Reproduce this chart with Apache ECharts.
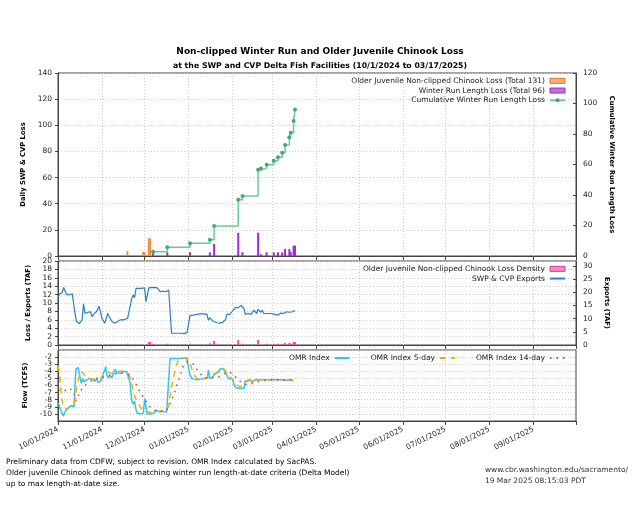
<!DOCTYPE html>
<html>
<head>
<meta charset="utf-8">
<script src="https://cdn.jsdelivr.net/npm/echarts@6/dist/echarts.min.js"></script>
<style>
html,body{margin:0;padding:0;background:#fff;}
#chart{width:640px;height:530px;}
</style>
</head>
<body>
<div id="chart"></div>
<script>
// ---- Data (days counted from 10/01/2024) ----
const olderJuvDays = [49, 60, 61, 64, 65];
const olderJuvLoss = [3.8, 3.0, 3.0, 13.5, 13.5];

const winterDays = [67, 77, 93, 107, 110, 127, 130, 141, 143, 147, 152, 155, 158, 160, 163, 164, 166, 167];
const winterLoss = [2.8, 2.8, 2.8, 2.8, 9.2, 17.8, 2.8, 17.8, 1.3, 2.8, 2.8, 2.8, 2.8, 5.4, 5.4, 3.0, 7.9, 7.9];

const cumDays = [67, 77, 93, 107, 110, 127, 130, 141, 143, 147, 152, 155, 158, 160, 163, 164, 166, 167];
const cumLoss = [2.8, 5.7, 8.3, 10.7, 19.7, 36.9, 39.3, 56.6, 57.3, 59.9, 62.5, 64.7, 67.7, 72.8, 77.8, 80.9, 88.5, 96];

const densityDays = [49, 64, 65, 67, 77, 93, 107, 110, 127, 130, 141, 147, 152, 155, 158, 160, 163, 164, 166, 167];
const densityVals = [0.3, 0.7, 0.7, 0.3, 0.3, 0.3, 0.4, 0.95, 1.2, 0.3, 1.2, 0.3, 0.3, 0.3, 0.3, 0.5, 0.5, 0.3, 0.7, 0.7];

const exportDays = [0, 1, 3, 4, 6, 8, 10, 11, 12, 13, 15, 16, 17, 18, 19, 20, 21, 23, 24, 25, 27, 29, 31, 33, 35, 36, 38, 40, 42, 44, 45, 46, 47, 49, 50, 52, 53, 54, 55, 57, 59, 61, 62, 63, 64, 67, 70, 71, 72, 74, 76, 77, 78, 79, 80, 82, 86, 89, 91, 92, 93, 95, 98, 99, 100, 103, 105, 106, 107, 108, 109, 112, 114, 116, 118, 119, 121, 122, 125, 127, 129, 131, 132, 134, 136, 138, 139, 140, 141, 143, 144, 145, 147, 150, 153, 155, 157, 159, 161, 162, 163, 165, 166, 167];
const exportVals = [11.1, 12.1, 12.5, 13.7, 12.1, 11.9, 12.2, 12.2, 7.5, 5.6, 5.1, 5.2, 6.0, 9.8, 7.5, 7.9, 7.8, 7.9, 6.7, 7.3, 7.9, 9.2, 6.3, 5.2, 7.5, 6.8, 5.6, 5.2, 5.6, 6.0, 5.6, 6.0, 5.6, 6.3, 6.5, 11.1, 11.9, 11.3, 13.5, 13.5, 13.5, 13.6, 10.3, 10.3, 13.6, 13.7, 13.6, 13.5, 12.7, 12.8, 12.7, 12.5, 13.1, 13.1, 2.8, 2.8, 2.8, 2.7, 3.0, 2.8, 7.0, 7.1, 7.3, 7.1, 7.4, 7.4, 7.3, 5.9, 6.5, 6.3, 5.7, 5.3, 5.2, 5.4, 6.0, 7.3, 7.3, 7.5, 8.9, 8.9, 9.4, 8.7, 7.3, 7.5, 7.3, 8.3, 8.1, 7.5, 8.5, 7.8, 8.3, 7.5, 7.5, 7.5, 7.3, 7.1, 7.6, 7.5, 7.9, 8.1, 7.8, 7.9, 8.1, 8.2];

const omrDays = [0.2, 1.4, 2.8, 3.7, 4.9, 7.3, 9.7, 11.3, 12.0, 12.7, 14.3, 15.0, 15.5, 16.4, 17.4, 18.3, 20.2, 22.5, 24.4, 26.1, 27.2, 28.4, 29.6, 30.8, 31.9, 33.1, 33.6, 34.3, 35.4, 36.6, 37.8, 39.0, 40.2, 41.4, 42.5, 44.2, 45.6, 47.0, 48.4, 49.5, 50.7, 51.4, 52.1, 53.1, 54.0, 54.7, 55.9, 57.8, 60.1, 61.1, 61.8, 62.7, 65.3, 67.2, 69.5, 71.4, 73.1, 74.7, 76.6, 77.7, 78.9, 81.2, 86.0, 90.7, 92.1, 93.0, 94.2, 95.9, 98.2, 100.1, 102.4, 105.3, 106.0, 107.1, 109.0, 110.6, 113.0, 114.1, 116.5, 117.7, 118.9, 120.0, 121.2, 122.8, 123.5, 124.7, 126.4, 129.5, 131.1, 131.8, 133.0, 135.3, 137.2, 138.8, 142.3, 147.1, 149.9, 151.3, 153.0, 156.4, 160.0, 163.5, 165.8];
const omrVals = [-8.5, -9.2, -9.9, -10.3, -9.7, -9.1, -8.8, -9.0, -5.9, -3.6, -3.5, -3.6, -4.8, -5.7, -5.0, -5.5, -5.2, -5.0, -5.2, -5.4, -5.0, -5.6, -5.7, -5.2, -4.3, -3.8, -3.3, -4.5, -4.9, -4.6, -4.9, -4.4, -3.7, -4.2, -4.0, -4.3, -4.0, -3.9, -4.1, -4.3, -5.5, -7.1, -8.3, -8.6, -8.2, -9.2, -9.9, -10.0, -9.9, -7.8, -7.7, -10.0, -10.0, -9.9, -9.5, -9.7, -9.6, -9.7, -9.7, -9.7, -2.2, -2.2, -2.2, -2.1, -2.2, -4.5, -5.0, -5.1, -5.2, -5.1, -5.0, -4.9, -3.8, -5.0, -4.8, -4.4, -4.1, -3.7, -3.6, -3.7, -4.5, -5.0, -5.1, -5.1, -5.5, -6.2, -6.4, -6.4, -6.4, -5.4, -5.2, -5.2, -5.5, -5.2, -5.2, -5.2, -5.2, -5.0, -5.2, -5.2, -5.3, -5.2, -5.3];

const omr5Days = [0.2, 1.4, 2.6, 3.7, 5.6, 8.5, 10.8, 12.2, 13.2, 14.6, 16.0, 17.8, 19.7, 21.4, 23.7, 26.1, 28.4, 30.1, 31.9, 33.8, 35.4, 37.8, 40.2, 42.5, 44.9, 47.2, 49.5, 51.2, 52.6, 54.2, 56.6, 58.9, 61.3, 63.6, 66.0, 68.3, 71.9, 75.4, 77.7, 79.4, 81.2, 83.1, 84.7, 87.1, 90.7, 92.5, 94.2, 95.9, 97.8, 100.1, 103.6, 105.9, 108.3, 111.4, 114.2, 117.0, 118.9, 121.2, 123.5, 125.9, 128.7, 130.6, 133.0, 136.5, 142.3, 149.4, 156.4, 165.8];
const omr5Vals = [-3.2, -5.0, -7.8, -9.0, -9.3, -9.0, -8.7, -7.8, -6.2, -5.0, -4.0, -4.3, -4.8, -5.0, -5.1, -5.1, -5.2, -5.0, -4.5, -4.1, -4.1, -4.3, -4.1, -4.0, -4.0, -4.0, -4.3, -5.0, -6.4, -7.6, -8.6, -9.3, -9.6, -9.7, -9.9, -9.7, -9.6, -9.6, -9.0, -6.9, -5.0, -3.4, -2.5, -2.2, -2.2, -2.5, -3.6, -4.5, -5.0, -5.1, -5.0, -4.9, -4.5, -4.2, -3.8, -3.7, -4.1, -4.8, -5.2, -5.9, -6.2, -5.9, -5.4, -5.3, -5.2, -5.2, -5.2, -5.3];

const omr14Days = [0.2, 3.7, 8.5, 11.3, 12.7, 15.5, 17.8, 20.2, 23.7, 27.2, 31.9, 35.4, 38.9, 43.7, 48.4, 51.9, 54.2, 57.8, 61.3, 64.8, 68.3, 71.9, 76.6, 78.9, 81.2, 83.6, 85.9, 88.2, 90.7, 93.0, 95.4, 97.8, 100.1, 102.4, 105.9, 109.4, 113.0, 116.5, 120.0, 122.8, 125.9, 129.4, 133.0, 136.5, 140.0, 144.7, 151.8, 158.8, 165.8];
const omr14Vals = [-6.6, -6.8, -6.4, -7.1, -8.2, -6.9, -6.2, -5.8, -5.3, -5.0, -4.8, -4.6, -4.4, -4.2, -4.3, -4.8, -5.5, -6.9, -8.0, -9.0, -9.5, -9.7, -9.5, -8.6, -7.5, -6.0, -4.7, -3.3, -2.7, -2.7, -3.0, -3.7, -4.3, -4.8, -5.0, -4.9, -4.8, -4.4, -4.1, -4.3, -5.0, -5.6, -5.9, -5.7, -5.5, -5.3, -5.2, -5.2, -5.2];

// ---- Build ----
const FONT = 'DejaVu Sans';
const DAY = 86400000;
const T0 = new Date(2024, 9, 1).getTime();
const XMAX = Math.round((new Date(2025, 9, 1).getTime() - T0) / DAY);
const monthStarts = Array.from({ length: 13 }, (_, i) => Math.round((new Date(2024, 9 + i, 1).getTime() - T0) / DAY));
const pad2 = n => (n < 10 ? '0' : '') + n;
const fmtDay = d => {
  const dt = new Date(T0 + d * DAY + 12 * 3600 * 1000);
  return pad2(dt.getMonth() + 1) + '/' + pad2(dt.getDate()) + '/' + dt.getFullYear();
};
const pairs = (ds, vs) => ds.map((d, i) => [d, vs[i]]);

const L = 58, R = 64;
const grids = [
  { left: L, right: R, top: 73, height: 183 },
  { left: L, right: R, top: 261, height: 84 },
  { left: L, right: R, top: 350, height: 71 }
].map(g => Object.assign(g, { show: true, borderColor: '#444', borderWidth: 1, backgroundColor: 'transparent' }));

function xAxisCfg(gi, labels) {
  return {
    type: 'value', gridIndex: gi, min: 0, max: XMAX,
    axisLine: { show: true, onZero: false, lineStyle: { color: '#444' } },
    axisTick: { show: true, length: 4, customValues: monthStarts, lineStyle: { color: '#444' } },
    splitLine: { show: false },
    axisLabel: labels ? {
      show: true, customValues: monthStarts.slice(0, 12), formatter: v => fmtDay(v), rotate: 26,
      fontFamily: FONT, fontSize: 7.5, color: '#222', margin: 8
    } : { show: false }
  };
}

// vertical dotted month grid lines (one helper series per panel)
function monthGrid(gi, yi) {
  return {
    type: 'line', xAxisIndex: gi, yAxisIndex: yi, data: [], silent: true,
    markLine: {
      silent: true, z: 1, symbol: ['none', 'none'], animation: false,
      label: { show: false }, emphasis: { disabled: true },
      lineStyle: { color: '#cfcfcf', type: [1, 2], width: 1 },
      data: monthStarts.slice(1, 12).map(d => ({ xAxis: d }))
    }
  };
}

const tickLabel = { fontFamily: FONT, fontSize: 7.5, color: '#222' };
const nameStyle = { fontFamily: FONT, fontSize: 6.8, fontWeight: 'bold', color: '#000' };
const splitY = { show: true, lineStyle: { color: '#cfcfcf', type: [1, 2], width: 1 } };
const axLine = { show: true, onZero: false, lineStyle: { color: '#444' } };
const axTick = { show: true, length: 3, lineStyle: { color: '#444' } };
const legendText = { fontFamily: FONT, fontSize: 7.5, color: '#222', lineHeight: 9.7 };
const noSym = { opacity: 0 };

const option = {
  animation: false,
  backgroundColor: '#fff',
  textStyle: { fontFamily: FONT },
  title: [
    { text: 'Non-clipped Winter Run and Older Juvenile Chinook Loss', left: 'center', top: 42,
      textStyle: { fontFamily: FONT, fontSize: 9, fontWeight: 'bold', color: '#000' } },
    { text: 'at the SWP and CVP Delta Fish Facilities (10/1/2024 to 03/17/2025)', left: 'center', top: 57,
      textStyle: { fontFamily: FONT, fontSize: 7.8, fontWeight: 'bold', color: '#000' } }
  ],
  grid: grids,
  xAxis: [xAxisCfg(0, false), xAxisCfg(1, false), xAxisCfg(2, true)],
  yAxis: [
    { type: 'value', gridIndex: 0, position: 'left', min: 0, max: 140, interval: 20,
      name: 'Daily SWP & CVP Loss', nameLocation: 'middle', nameGap: 31, nameTextStyle: nameStyle,
      axisLabel: Object.assign({ margin: 6 }, tickLabel), axisLine: axLine, axisTick: axTick, splitLine: splitY },
    { type: 'value', gridIndex: 0, position: 'right', min: 0, max: 120, interval: 20,
      name: 'Cumulative Winter Run Length Loss', nameLocation: 'middle', nameRotate: -90, nameGap: 31, nameTextStyle: nameStyle,
      axisLabel: Object.assign({ margin: 7 }, tickLabel), axisLine: axLine, axisTick: Object.assign({}, axTick, { inside: true }), splitLine: { show: false } },
    { type: 'value', gridIndex: 1, position: 'left', min: 0, max: 20, interval: 2,
      name: 'Loss / Exports (TAF)', nameLocation: 'middle', nameGap: 25, nameTextStyle: nameStyle,
      axisLabel: Object.assign({ margin: 6 }, tickLabel), axisLine: axLine, axisTick: axTick, splitLine: splitY },
    { type: 'value', gridIndex: 1, position: 'right', min: 0, max: 31.9, interval: 5,
      name: 'Exports (TAF)', nameLocation: 'middle', nameRotate: -90, nameGap: 26, nameTextStyle: nameStyle,
      axisLabel: Object.assign({ margin: 7, showMaxLabel: false }, tickLabel), axisLine: axLine,
      axisTick: Object.assign({}, axTick, { inside: true }), splitLine: { show: false } },
    { type: 'value', gridIndex: 2, position: 'left', min: -11, max: -1, interval: 1,
      name: 'Flow (TCFS)', nameLocation: 'middle', nameGap: 25, nameTextStyle: nameStyle,
      axisLabel: Object.assign({ margin: 6 }, tickLabel), axisLine: axLine, axisTick: axTick, splitLine: splitY }
  ],
  legend: [
    { orient: 'vertical', right: 74, top: 76, align: 'right', itemWidth: 15, itemHeight: 5, itemGap: 0, padding: 0,
      textStyle: legendText,
      data: [
        { name: 'Older Juvenile Non-clipped Chinook Loss (Total 131)', icon: 'rect',
          itemStyle: { color: '#f6b27a', borderColor: '#e0702a', borderWidth: 1 } },
        { name: 'Winter Run Length Loss (Total 96)', icon: 'rect',
          itemStyle: { color: '#c070e6', borderColor: '#9a2acb', borderWidth: 1 } },
        { name: 'Cumulative Winter Run Length Loss' }
      ] },
    { orient: 'vertical', right: 74, top: 264, align: 'right', itemWidth: 15, itemHeight: 5, itemGap: 0, padding: 0,
      textStyle: legendText,
      data: [
        { name: 'Older Juvenile Non-clipped Chinook Loss Density', icon: 'rect',
          itemStyle: { color: '#f48cc4', borderColor: '#d83c8c', borderWidth: 1 } },
        { name: 'SWP & CVP Exports', itemStyle: noSym }
      ] },
    { orient: 'horizontal', right: 74, top: 354, align: 'right', itemWidth: 15, itemHeight: 5, itemGap: 20, padding: 0,
      textStyle: { fontFamily: FONT, fontSize: 7.5, color: '#222' },
      data: [
        { name: 'OMR Index', itemStyle: noSym },
        { name: 'OMR Index 5-day', itemStyle: noSym },
        { name: 'OMR Index 14-day', itemStyle: noSym }
      ] }
  ],
  series: [
    monthGrid(0, 0), monthGrid(1, 2), monthGrid(2, 4),
    { name: 'Older Juvenile Non-clipped Chinook Loss (Total 131)', type: 'bar', xAxisIndex: 0, yAxisIndex: 0,
      barWidth: 1.8, barGap: '-100%', data: pairs(olderJuvDays, olderJuvLoss),
      itemStyle: { color: '#f08a3c' } },
    { name: 'Winter Run Length Loss (Total 96)', type: 'bar', xAxisIndex: 0, yAxisIndex: 0,
      barWidth: 2, barGap: '-100%', data: pairs(winterDays, winterLoss),
      itemStyle: { color: '#a52ad6' } },
    { name: 'Cumulative Winter Run Length Loss', type: 'line', xAxisIndex: 0, yAxisIndex: 1,
      step: 'end', symbol: 'circle', symbolSize: 4, data: pairs(cumDays, cumLoss),
      lineStyle: { color: '#6cc99a', width: 1.5 }, itemStyle: { color: '#3cae6e' } },
    { name: 'Older Juvenile Non-clipped Chinook Loss Density', type: 'bar', xAxisIndex: 1, yAxisIndex: 2,
      barWidth: 2, barGap: '-100%', data: pairs(densityDays, densityVals),
      itemStyle: { color: '#f0509f' } },
    { name: 'SWP & CVP Exports', type: 'line', xAxisIndex: 1, yAxisIndex: 2, symbol: 'none',
      data: pairs(exportDays, exportVals), lineStyle: { color: '#2a7fc0', width: 1.2 }, itemStyle: { color: '#2a7fc0' } },
    { name: 'OMR Index', type: 'line', xAxisIndex: 2, yAxisIndex: 4, symbol: 'none',
      data: pairs(omrDays, omrVals), lineStyle: { color: '#30c6f4', width: 1.5 }, itemStyle: { color: '#30c6f4' } },
    { name: 'OMR Index 5-day', type: 'line', xAxisIndex: 2, yAxisIndex: 4, symbol: 'none',
      data: pairs(omr5Days, omr5Vals), lineStyle: { color: '#f0b000', width: 1.5, type: [6, 5] }, itemStyle: { color: '#f0b000' } },
    { name: 'OMR Index 14-day', type: 'line', xAxisIndex: 2, yAxisIndex: 4, symbol: 'none',
      data: pairs(omr14Days, omr14Vals), lineStyle: { color: '#c84848', width: 1.6, type: [1.5, 5] }, itemStyle: { color: '#c84848' } }
  ],
  graphic: [
    { type: 'text', left: 6, top: 457,
      style: { text: 'Preliminary data from CDFW; subject to revision. OMR Index calculated by SacPAS.\nOlder juvenile Chinook defined as matching winter run length-at-date criteria (Delta Model)\nup to max length-at-date size.',
        font: '7.5px "DejaVu Sans"', lineHeight: 11, fill: '#000' } },
    { type: 'text', right: 12, top: 465,
      style: { text: 'www.cbr.washington.edu/sacramento/\n19 Mar 2025 08:15:03 PDT', font: '7.5px "DejaVu Sans"',
        lineHeight: 11, fill: '#333', align: 'right' } }
  ]
};

const chart = echarts.init(document.getElementById('chart'), null, { renderer: 'canvas' });
chart.setOption(option);
</script>
</body>
</html>
